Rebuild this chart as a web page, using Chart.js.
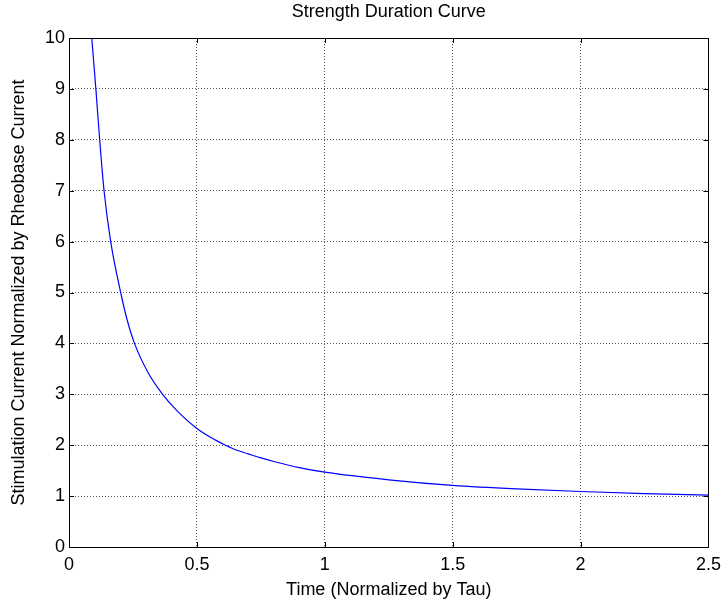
<!DOCTYPE html>
<html>
<head>
<meta charset="utf-8">
<script src="https://cdn.jsdelivr.net/npm/chart.js@4"></script>
<style>
  html, body { margin: 0; padding: 0; background: #fff; }
  #chart { display: block; }
</style>
</head>
<body>
<canvas id="chart" width="728" height="601"></canvas>
<script>
// values
const timeVals = [0.089, 0.105, 0.12, 0.137, 0.163, 0.202, 0.228, 0.256, 0.31, 0.366, 0.418, 0.5, 0.573, 0.612, 0.657, 0.7, 0.75, 0.8, 0.9, 1.0, 1.25, 1.5, 1.75, 2.0, 2.25, 2.5];
const currentVals = [10, 9, 8, 7, 6, 5, 4.45, 4, 3.42, 3, 2.7, 2.33, 2.1, 2.0, 1.9, 1.83, 1.75, 1.68, 1.56, 1.47, 1.32, 1.21, 1.14, 1.09, 1.05, 1.02];
const xTicks = [0, 0.5, 1, 1.5, 2, 2.5];
const yTicks = [0, 1, 2, 3, 4, 5, 6, 7, 8, 9, 10];

const chartTitle = 'Strength Duration Curve';
const xTitle = 'Time (Normalized by Tau)';
const yTitle = 'Stimulation Current Normalized by Rheobase Current';

const FONT = "'Liberation Sans', Arial, sans-serif";

// matlab style: black box, inward ticks on all four sides, title over the axes
const matlabAxes = {
    id: 'matlabAxes',
    afterDraw(chart) {
        const { ctx, chartArea: a, scales: { x, y } } = chart;
        ctx.save();
        ctx.strokeStyle = '#000';
        ctx.lineWidth = 1;
        ctx.beginPath();
        ctx.rect(Math.round(a.left) + 0.5, Math.round(a.top) + 0.5,
                 Math.round(a.right - a.left), Math.round(a.bottom - a.top));
        ctx.stroke();

        const len = 5;
        ctx.beginPath();
        xTicks.forEach(v => {
            const px = Math.round(x.getPixelForValue(v)) + 0.5;
            ctx.moveTo(px, a.bottom); ctx.lineTo(px, a.bottom - len);
            ctx.moveTo(px, a.top); ctx.lineTo(px, a.top + len);
        });
        yTicks.forEach(v => {
            const py = Math.round(y.getPixelForValue(v)) + 0.5;
            ctx.moveTo(a.left, py); ctx.lineTo(a.left + len, py);
            ctx.moveTo(a.right, py); ctx.lineTo(a.right - len, py);
        });
        ctx.stroke();

        ctx.fillStyle = '#000';
        ctx.font = '18px ' + FONT;
        ctx.textAlign = 'center';
        ctx.textBaseline = 'middle';
        ctx.fillText(chartTitle, (a.left + a.right) / 2, 12);
        ctx.restore();
    }
};

const ctx = document.getElementById('chart').getContext('2d');

new Chart(ctx, {
    type: 'line',
    data: {
        datasets: [{
            data: timeVals.map((t, i) => ({ x: t, y: currentVals[i] })),
            borderColor: '#0000ff',
            borderWidth: 1.2,
            pointRadius: 0,
            cubicInterpolationMode: 'monotone',
            fill: false
        }]
    },
    options: {
        responsive: false,
        animation: false,
        layout: { padding: { top: 38, right: 15, left: 0, bottom: 0 } },
        plugins: {
            legend: { display: false },
            tooltip: { enabled: false }
        },
        scales: {
            x: {
                type: 'linear',
                min: 0,
                max: 2.5,
                afterBuildTicks: s => { s.ticks = xTicks.map(v => ({ value: v })); },
                afterFit: s => { s.height = 54; },
                ticks: {
                    color: '#000',
                    padding: 7,
                    maxRotation: 0,
                    font: { family: FONT, size: 18 },
                    callback: v => String(v)
                },
                grid: {
                    color: '#555',
                    lineWidth: 1,
                    drawTicks: false
                },
                border: { display: false, dash: [1, 2] },
                title: {
                    display: true,
                    text: xTitle,
                    color: '#000',
                    font: { family: FONT, size: 18 },
                    padding: { top: 0, bottom: 0 }
                }
            },
            y: {
                type: 'linear',
                min: 0,
                max: 10,
                afterBuildTicks: s => { s.ticks = yTicks.map(v => ({ value: v })); },
                afterFit: s => { s.width = 69; },
                ticks: {
                    color: '#000',
                    padding: 4,
                    font: { family: FONT, size: 18 },
                    callback: v => String(v)
                },
                grid: {
                    color: '#555',
                    lineWidth: 1,
                    drawTicks: false
                },
                border: { display: false, dash: [1, 2] },
                title: {
                    display: true,
                    text: yTitle,
                    color: '#000',
                    font: { family: FONT, size: 18 },
                    padding: { top: 8, bottom: 0 }
                }
            }
        }
    },
    plugins: [matlabAxes]
});
</script>
</body>
</html>
